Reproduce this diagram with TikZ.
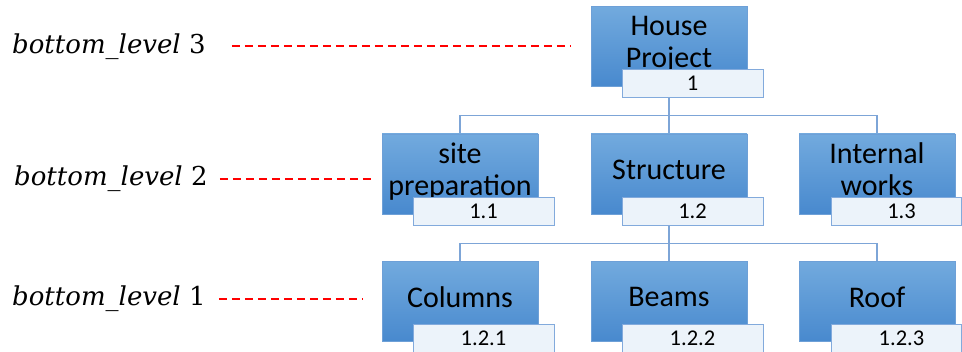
\documentclass[tikz,border=0pt]{standalone}
\usepackage{fontspec}
\newfontfamily\boxfont{Carlito}
\newfontfamily\lvlfont{DejaVu Serif}
\usetikzlibrary{backgrounds}
\definecolor{boxtop}{RGB}{114,170,222}
\definecolor{boxbot}{RGB}{72,137,206}
\definecolor{boxedge}{RGB}{110,160,215}
\definecolor{lblfill}{RGB}{236,243,250}
\definecolor{lbledge}{RGB}{130,170,220}
\definecolor{connc}{RGB}{125,165,215}
\begin{document}
\begin{tikzpicture}[x=1pt,y=-1pt,
  wbs/.style={rectangle, minimum width=156pt, minimum height=80pt, inner sep=0pt,
    top color=boxtop, bottom color=boxbot, draw=boxedge, line width=0.6pt,
    font=\boxfont\fontsize{30}{32}\selectfont, align=center, text depth=9pt},
  lbl/.style={rectangle, minimum width=141pt, minimum height=28pt, inner sep=0pt,
    fill=lblfill, draw=lbledge, line width=0.8pt,
    font=\boxfont\fontsize{22.5}{24}\selectfont},
  conn/.style={draw=connc, line width=1.2pt},
  lvl/.style={anchor=west, inner sep=0pt, font=\lvlfont\fontsize{26}{30}\selectfont},
  reddash/.style={draw=red, line width=2.3pt, dash pattern=on 8pt off 5pt}]
\useasboundingbox (0,0) rectangle (962,352);

% level texts
\node[lvl] (lv3) at (12,47) {\textit{bottom\_level} 3};
\node[lvl] (lv2) at (14,179) {\textit{bottom\_level} 2};
\node[lvl] (lv1) at (12,299) {\textit{bottom\_level} 1};
\coordinate (d3) at (570,46);
\coordinate (d2) at (375,179);
\coordinate (d1) at (362,299);
\draw[reddash] ([xshift=26pt]lv3.east |- d3) -- (d3);
\draw[reddash] ([xshift=12pt]lv2.east |- d2) -- (d2);
\draw[reddash] ([xshift=13pt]lv1.east |- d1) -- (d1);

% boxes
\node[wbs] (top) at (669,46.5) {House\\Project};
\node[lbl] (ltop) at (692.5,83) {1};

\node[wbs] (site) at (460,174) {site\\preparation};
\node[lbl] (lsite) at (483.5,211) {1.1};
\node[wbs] (str) at (669,174) {Structure};
\node[lbl] (lstr) at (692.5,211) {1.2};
\node[wbs] (intw) at (877,174) {Internal\\works};
\node[lbl, minimum width=130pt] (lintw) at (896,211) {\hspace*{11pt}1.3};

\node[wbs] (col) at (460,301.5) {Columns};
\node[lbl] (lcol) at (483.5,338.5) {1.2.1};
\node[wbs] (beam) at (669,301.5) {Beams};
\node[lbl] (lbeam) at (692.5,338.5) {1.2.2};
\node[wbs] (roof) at (877,301.5) {Roof};
\node[lbl, minimum width=130pt] (lroof) at (896,338.5) {\hspace*{11pt}1.2.3};

% connectors
\begin{scope}[on background layer]
\draw[conn] (top.south) -- ++(0,29) -| (site.north);
\draw[conn] (top.south) ++(0,29) -| (intw.north);
\draw[conn] (top.south) -- (str.north);
\draw[conn] (str.south) -- ++(0,29) -| (col.north);
\draw[conn] (str.south) ++(0,29) -| (roof.north);
\draw[conn] (str.south) -- (beam.north);
\end{scope}
\end{tikzpicture}
\end{document}
